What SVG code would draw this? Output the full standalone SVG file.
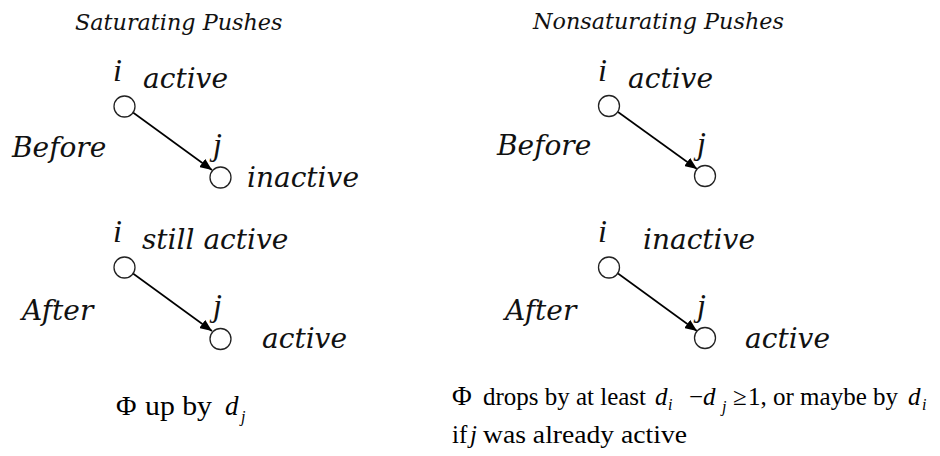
<svg xmlns="http://www.w3.org/2000/svg" width="940" height="456" viewBox="0 0 940 456">
<defs>
<marker id="ah" viewBox="0 0 12 10" refX="12" refY="5" markerWidth="12" markerHeight="10" markerUnits="userSpaceOnUse" orient="auto">
<path d="M0,0 L12,5 L0,10 Z" fill="#000"/>
</marker>
</defs>
<style>
.t{font-family:"DejaVu Serif","Liberation Serif",serif;font-style:italic;fill:#111}
.ttl{font-size:22.3px}
.lb{font-size:28px}
.v{font-family:"Liberation Serif",serif;font-style:italic;font-size:32px;fill:#111}
.m{font-family:"Liberation Serif",serif;font-size:25px;fill:#000}
.mi{font-style:italic}
.sub{font-family:"Liberation Serif",serif;font-style:italic;font-size:16px;fill:#000}
.node{fill:#fff;stroke:#222;stroke-width:1.3}
.edge{stroke:#000;stroke-width:1.6;fill:none;marker-end:url(#ah)}
</style>
<rect width="940" height="456" fill="#fff"/>

<text class="t ttl" x="75" y="30">Saturating Pushes</text>
<text class="t ttl" x="533" y="29">Nonsaturating Pushes</text>

<text class="t lb" x="12" y="157">Before</text>
<text class="t lb" x="497" y="155">Before</text>
<text class="t lb" x="22" y="320">After</text>
<text class="t lb" x="505" y="320">After</text>

<g id="connectors">
<line class="edge" x1="133" y1="112.5" x2="212" y2="170"/>
<line class="edge" x1="618" y1="112" x2="697" y2="169"/>
<line class="edge" x1="133" y1="273.5" x2="212" y2="331"/>
<line class="edge" x1="618" y1="273.5" x2="697" y2="331"/>
</g>

<g id="sat-before-i">
<circle class="node" cx="124.5" cy="106.5" r="10.5"/>
<text class="v" x="113" y="81">i</text>
<text class="t lb" x="143" y="88">active</text>
</g>
<g id="sat-before-j">
<circle class="node" cx="220.5" cy="177.5" r="10.5"/>
<text class="v" x="213" y="155">j</text>
<text class="t lb" x="247" y="187">inactive</text>
</g>
<g id="non-before-i">
<circle class="node" cx="609" cy="106" r="10.5"/>
<text class="v" x="598" y="81">i</text>
<text class="t lb" x="628" y="88">active</text>
</g>
<g id="non-before-j">
<circle class="node" cx="705" cy="176" r="10.5"/>
<text class="v" x="697" y="154">j</text>
</g>
<g id="sat-after-i">
<circle class="node" cx="124.5" cy="267.5" r="10.5"/>
<text class="v" x="113" y="242">i</text>
<text class="t lb" x="142" y="249">still active</text>
</g>
<g id="sat-after-j">
<circle class="node" cx="220.5" cy="339" r="10.5"/>
<text class="v" x="213" y="316">j</text>
<text class="t lb" x="262" y="348">active</text>
</g>
<g id="non-after-i">
<circle class="node" cx="609" cy="267.5" r="10.5"/>
<text class="v" x="598" y="242">i</text>
<text class="t lb" x="643" y="249">inactive</text>
</g>
<g id="non-after-j">
<circle class="node" cx="705" cy="338" r="10.5"/>
<text class="v" x="697" y="316">j</text>
<text class="t lb" x="745" y="348">active</text>
</g>

<g id="formula-left">
<text class="m" style="font-size:28px" x="116" y="415">Φ</text>
<text class="m" style="font-size:27px" x="145" y="415" textLength="67" lengthAdjust="spacingAndGlyphs">up by</text>
<text class="m mi" style="font-size:27px" x="225" y="415">d</text>
<text class="sub" x="241" y="422">j</text>
</g>

<g id="formula-right">
<text class="m" style="font-size:27px" x="452" y="405">Φ</text>
<text class="m" x="483" y="405" textLength="163" lengthAdjust="spacingAndGlyphs">drops by at least</text>
<text class="m mi" x="655" y="405">d</text>
<text class="sub" x="668" y="410">i</text>
<text class="m" x="689" y="405">−</text>
<text class="m mi" x="703" y="405">d</text>
<text class="sub" x="722" y="412">j</text>
<text class="m" x="733" y="405">≥</text>
<text class="m" x="748" y="405" textLength="150" lengthAdjust="spacingAndGlyphs">1, or maybe by</text>
<text class="m mi" x="908" y="405">d</text>
<text class="sub" x="922" y="410">i</text>
<text class="m" x="452" y="443">if</text>
<text class="m mi" x="470" y="443">j</text>
<text class="m" x="483" y="443" textLength="204" lengthAdjust="spacingAndGlyphs">was already active</text>
</g>
</svg>
